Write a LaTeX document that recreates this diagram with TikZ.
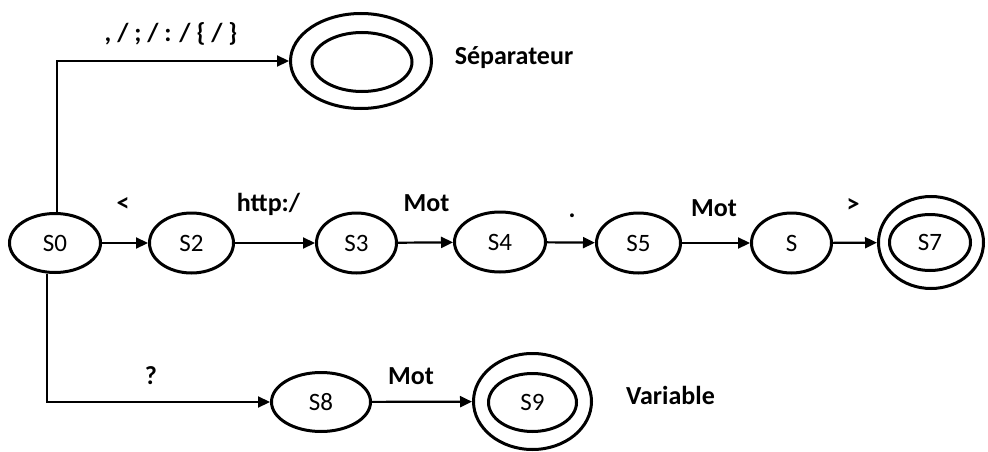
\documentclass[tikz,border=0pt]{standalone}
\usepackage{fontspec}
\setmainfont{Carlito}
\usetikzlibrary{shapes.geometric,arrows.meta}
\tikzset{
  st/.style={ellipse,draw,line width=3pt,inner sep=0pt,
    font=\fontsize{25}{29}\selectfont},
  lbl/.style={anchor=base,inner sep=0pt,font=\fontsize{26}{30}\selectfont\bfseries},
  arr/.style={line width=2.2pt,-{Triangle[length=12pt,width=11pt]}}
}
\begin{document}
\begin{tikzpicture}[x=1pt,y=-1pt]
\useasboundingbox (0,0) rectangle (988,452);
% states
\node[st,minimum width=91pt,minimum height=59pt] (S0) at (55,243) {S0};
\node[st,minimum width=84pt,minimum height=60pt] (S2) at (191.5,243) {S2};
\node[st,minimum width=80pt,minimum height=60pt] (S3) at (356.5,243) {S3};
\node[st,minimum width=91pt,minimum height=60pt] (S4) at (500,242) {S4};
\node[st,minimum width=84pt,minimum height=60pt] (S5) at (638.5,243) {S5};
\node[st,minimum width=80pt,minimum height=60pt] (S6) at (791.5,243) {S};
\node[st,minimum width=105pt,minimum height=92pt] (S7) at (931,242.5) {};
\node[st,minimum width=81pt,minimum height=56pt] (S7in) at (930,242.5) {S7};
\node[st,minimum width=141pt,minimum height=95pt] (Sep) at (361,61) {};
\node[st,minimum width=100pt,minimum height=59pt] (Sepin) at (362,62) {};
\node[st,minimum width=99pt,minimum height=59pt] (S8) at (321,402) {S8};
\node[st,minimum width=118pt,minimum height=96pt] (S9) at (532.5,401.5) {};
\node[st,minimum width=88pt,minimum height=58pt] (S9in) at (532.5,402.5) {S9};
% labels
\node[lbl] (lsep) at (171,42) {, / ; / : / \{ / \}};
\node[lbl] (tsep) at (514,65) {Séparateur};
\node[lbl] (l1) at (123,211) {<};
\node[lbl] (l2) at (268.5,211) {http:/};
\node[lbl] (l3) at (426.5,211) {Mot};
\node[lbl] (l4) at (572,217) {.};
\node[lbl] (l5) at (714,216) {Mot};
\node[lbl] (l6) at (853,212) {>};
\node[lbl] (l7) at (151,384) {?};
\node[lbl] (l8) at (411,384) {Mot};
\node[lbl] (tvar) at (670.5,404) {Variable};
% connectors
\draw[arr] (S0) -- (S2);
\draw[arr] (S2) -- (S3);
\draw[arr] (S3) -- (S4);
\draw[arr] (S4) -- (S5);
\draw[arr] (S5) -- (S6);
\draw[arr] (S6) -- (S7);
\draw[arr] (S8) -- (S9);
\draw[arr] ([xshift=2pt]S0.north) |- (Sep);
\draw[arr] ([xshift=-8pt]S0.south) |- (S8);
\end{tikzpicture}
\end{document}
